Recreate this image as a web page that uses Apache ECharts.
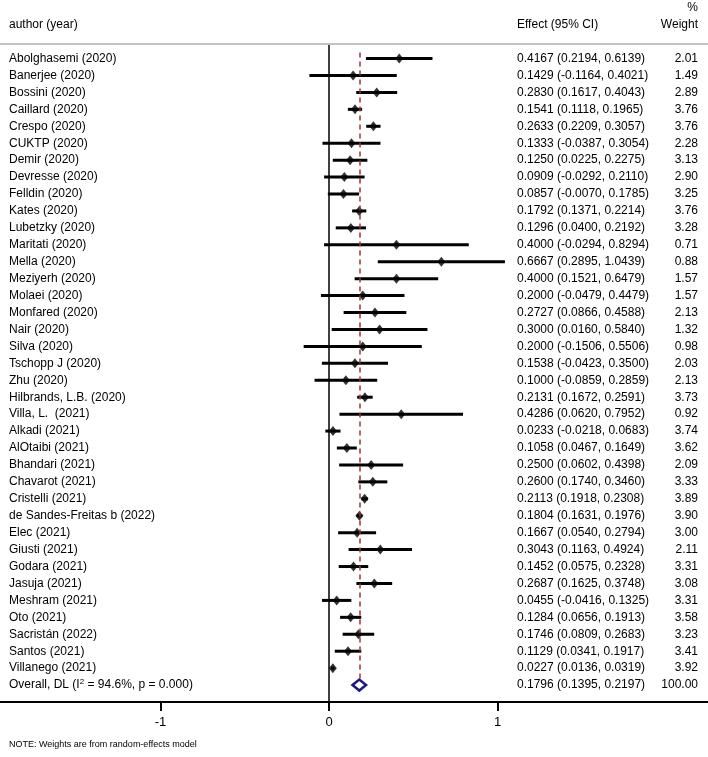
<!DOCTYPE html>
<html>
<head>
<meta charset="utf-8">
<script src="https://cdn.jsdelivr.net/npm/echarts@6/dist/echarts.min.js"></script>
<style>
html, body { margin: 0; padding: 0; background: #fff; }
#forest { width: 708px; height: 757px; }
</style>
</head>
<body>
<div id="forest"></div>
<script>
var authors = [
	'Abolghasemi (2020)', 'Banerjee (2020)', 'Bossini (2020)', 'Caillard (2020)',
	'Crespo (2020)', 'CUKTP (2020)', 'Demir (2020)', 'Devresse (2020)',
	'Felldin (2020)', 'Kates (2020)', 'Lubetzky (2020)', 'Maritati (2020)',
	'Mella (2020)', 'Meziyerh (2020)', 'Molaei (2020)', 'Monfared (2020)',
	'Nair (2020)', 'Silva (2020)', 'Tschopp J (2020)', 'Zhu (2020)',
	'Hilbrands, L.B. (2020)', 'Villa, L.  (2021)', 'Alkadi (2021)', 'AlOtaibi (2021)',
	'Bhandari (2021)', 'Chavarot (2021)', 'Cristelli (2021)', 'de Sandes-Freitas b (2022)',
	'Elec (2021)', 'Giusti (2021)', 'Godara (2021)', 'Jasuja (2021)',
	'Meshram (2021)', 'Oto (2021)', 'Sacristán (2022)', 'Santos (2021)',
	'Villanego (2021)'
];
var effects = [
	0.4167, 0.1429, 0.2830, 0.1541, 0.2633, 0.1333, 0.1250, 0.0909,
	0.0857, 0.1792, 0.1296, 0.4000, 0.6667, 0.4000, 0.2000, 0.2727,
	0.3000, 0.2000, 0.1538, 0.1000, 0.2131, 0.4286, 0.0233, 0.1058,
	0.2500, 0.2600, 0.2113, 0.1804, 0.1667, 0.3043, 0.1452, 0.2687,
	0.0455, 0.1284, 0.1746, 0.1129, 0.0227
];
var lowers = [
	0.2194, -0.1164, 0.1617, 0.1118, 0.2209, -0.0387, 0.0225, -0.0292,
	-0.0070, 0.1371, 0.0400, -0.0294, 0.2895, 0.1521, -0.0479, 0.0866,
	0.0160, -0.1506, -0.0423, -0.0859, 0.1672, 0.0620, -0.0218, 0.0467,
	0.0602, 0.1740, 0.1918, 0.1631, 0.0540, 0.1163, 0.0575, 0.1625,
	-0.0416, 0.0656, 0.0809, 0.0341, 0.0136
];
var uppers = [
	0.6139, 0.4021, 0.4043, 0.1965, 0.3057, 0.3054, 0.2275, 0.2110,
	0.1785, 0.2214, 0.2192, 0.8294, 1.0439, 0.6479, 0.4479, 0.4588,
	0.5840, 0.5506, 0.3500, 0.2859, 0.2591, 0.7952, 0.0683, 0.1649,
	0.4398, 0.3460, 0.2308, 0.1976, 0.2794, 0.4924, 0.2328, 0.3748,
	0.1325, 0.1913, 0.2683, 0.1917, 0.0319
];
var weights = [
	2.01, 1.49, 2.89, 3.76, 3.76, 2.28, 3.13, 2.90,
	3.25, 3.76, 3.28, 0.71, 0.88, 1.57, 1.57, 2.13,
	1.32, 0.98, 2.03, 2.13, 3.73, 0.92, 3.74, 3.62,
	2.09, 3.33, 3.89, 3.90, 3.00, 2.11, 3.31, 3.08,
	3.31, 3.58, 3.23, 3.41, 3.92
];
var overallLabel = 'Overall, DL (I{sup|2} = 94.6%, p = 0.000)';
var overallEffect = 0.1796;
var overallLower = 0.1395;
var overallUpper = 0.2197;
var overallWeight = 100.00;
var xTicks = [-1, 0, 1];

var FONT = 'Liberation Sans, Arial, sans-serif';
var nRows = authors.length + 1;
var overallRow = authors.length;

function ciText(e, lo, hi) {
	return e.toFixed(4) + ' (' + lo.toFixed(4) + ', ' + hi.toFixed(4) + ')';
}

// one row per study, plus the overall row at the end
var rows = [];
for (var i = 0; i < authors.length; i++) {
	rows.push({ value: [effects[i], i, lowers[i], uppers[i]], label: authors[i],
		ci: ciText(effects[i], lowers[i], uppers[i]), w: weights[i].toFixed(2) });
}
rows.push({ value: [overallEffect, overallRow, overallLower, overallUpper], label: overallLabel,
	ci: ciText(overallEffect, overallLower, overallUpper), w: overallWeight.toFixed(2) });

var chart = echarts.init(document.getElementById('forest'), null, { renderer: 'canvas' });

chart.setOption({
	animation: false,
	backgroundColor: '#fff',
	grid: { left: 0, right: 0, top: 45, bottom: 55, containLabel: false },
	xAxis: {
		type: 'value',
		min: -1.9525,
		max: 2.249,
		axisLine: { show: true, onZero: false, lineStyle: { color: '#000', width: 2 } },
		axisTick: { show: true, customValues: xTicks, length: 9, lineStyle: { color: '#000', width: 2 } },
		axisLabel: { customValues: xTicks, margin: 14, color: '#000', fontSize: 13, fontFamily: FONT },
		splitLine: { show: false }
	},
	yAxis: {
		type: 'value',
		inverse: true,
		min: -0.8,
		max: 38,
		show: false
	},
	graphic: [
		{ type: 'line', shape: { x1: 0, y1: 44, x2: 708, y2: 44 }, style: { stroke: '#c4c4c4', lineWidth: 2 } },
		{ type: 'text', x: 9, y: 25, style: { text: 'author (year)', fontSize: 12, fontFamily: FONT, fill: '#000', verticalAlign: 'middle' } },
		{ type: 'text', x: 517, y: 25, style: { text: 'Effect (95% CI)', fontSize: 12, fontFamily: FONT, fill: '#000', verticalAlign: 'middle' } },
		{ type: 'text', x: 698, y: 8, style: { text: '%', fontSize: 12, fontFamily: FONT, fill: '#000', align: 'right', verticalAlign: 'middle' } },
		{ type: 'text', x: 698, y: 25, style: { text: 'Weight', fontSize: 12, fontFamily: FONT, fill: '#000', align: 'right', verticalAlign: 'middle' } },
		{ type: 'text', x: 9, y: 745, style: { text: 'NOTE: Weights are from random-effects model', fontSize: 9, fontFamily: FONT, fill: '#000', verticalAlign: 'middle' } }
	],
	series: [
		{
			// confidence interval bars
			type: 'custom',
			silent: true,
			data: rows.slice(0, overallRow),
			encode: { x: [2, 3], y: 1 },
			renderItem: function(params, api) {
				var a = api.coord([api.value(2), api.value(1)]);
				var b = api.coord([api.value(3), api.value(1)]);
				return { type: 'line', shape: { x1: a[0], y1: a[1], x2: b[0], y2: b[1] },
					style: { stroke: '#000', lineWidth: 3 } };
			},
			z: 3
		},
		{
			// point estimates
			type: 'scatter',
			silent: true,
			data: rows.slice(0, overallRow).map(function(r) { return r.value.slice(0, 2); }),
			symbol: 'diamond',
			symbolSize: [8, 10],
			itemStyle: { color: '#000' },
			z: 4,
			markLine: {
				silent: true,
				symbol: ['none', 'none'],
				label: { show: false },
				data: [
					{ xAxis: 0, lineStyle: { color: '#000', width: 1.5, type: 'solid' } },
					[{ coord: [overallEffect, -0.35], lineStyle: { color: '#a3303f', width: 1.5, type: [5, 4] } },
					 { coord: [overallEffect, overallRow + 0.35] }]
				]
			}
		},
		{
			// overall diamond
			type: 'custom',
			silent: true,
			data: rows.slice(overallRow),
			encode: { x: [0, 2, 3], y: 1 },
			renderItem: function(params, api) {
				var y = api.value(1);
				var l = api.coord([api.value(2), y]);
				var c = api.coord([api.value(0), y]);
				var r = api.coord([api.value(3), y]);
				var h = 5.5;
				return { type: 'polygon', shape: { points: [[l[0], c[1]], [c[0], c[1] - h], [r[0], c[1]], [c[0], c[1] + h]] },
					style: { fill: '#fff', stroke: '#1a1a80', lineWidth: 2.5 } };
			},
			z: 5
		},
		{
			// text columns
			type: 'custom',
			silent: true,
			data: rows,
			encode: { y: 1 },
			renderItem: function(params, api) {
				var r = rows[params.dataIndex];
				var y = api.coord([0, api.value(1)])[1];
				var base = { fontSize: 12, fontFamily: FONT, fill: '#000', verticalAlign: 'middle' };
				return {
					type: 'group',
					children: [
						{ type: 'text', x: 9, y: y, style: Object.assign({ text: r.label,
							rich: { sup: { fontSize: 8, verticalAlign: 'top', padding: [0, 0, 6, 0], fontFamily: FONT } } }, base) },
						{ type: 'text', x: 517, y: y, style: Object.assign({ text: r.ci }, base) },
						{ type: 'text', x: 698, y: y, style: Object.assign({ text: r.w, align: 'right' }, base) }
					]
				};
			},
			z: 6
		}
	]
});
window.onresize = chart.resize;
</script>
</body>
</html>
